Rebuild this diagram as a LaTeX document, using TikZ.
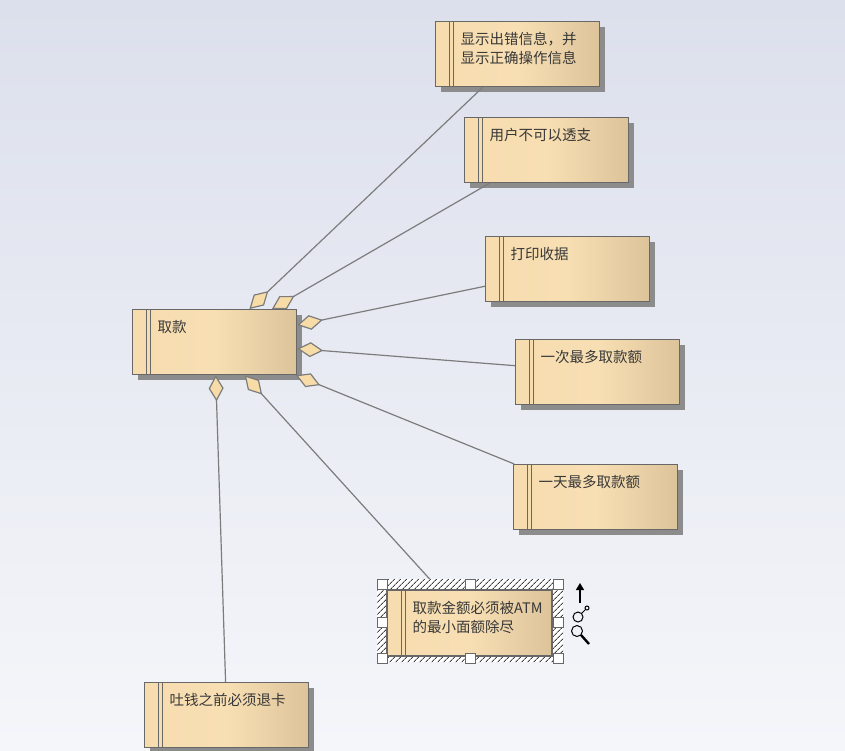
\documentclass[tikz,border=0pt]{standalone}
\usepackage{fontspec}
\usepackage{tikz}
\usetikzlibrary{arrows.meta,positioning,shadows,patterns.meta}
\newfontfamily\cjk{Noto Sans CJK SC}

\definecolor{bgtop}{HTML}{DCE0EC}
\definecolor{bgbot}{HTML}{F5F6FA}
\definecolor{reqleft}{HTML}{F6DCAF}
\definecolor{reqmid}{HTML}{F8DFB3}
\definecolor{reqright}{HTML}{DCC39A}
\definecolor{reqline}{HTML}{686868}
\definecolor{linkgray}{HTML}{7C7C7C}
\definecolor{diafill}{HTML}{F8DCA8}
\definecolor{txtgray}{HTML}{383838}

\begin{document}
\begin{tikzpicture}[x=1pt,y=-1pt,
  req/.style={rectangle,draw=reqline,line width=1.3pt,
              left color=reqleft,right color=reqright,middle color=reqmid,
              drop shadow={shadow xshift=5pt,shadow yshift=-5pt,fill=black!45,opacity=1},
              anchor=north west,text width=114pt,inner xsep=25pt,inner ysep=0pt,
              text height=22.5pt,text depth=42.5pt,align=left,
              font=\cjk\fontsize{14.5pt}{19.5pt}\selectfont,text=txtgray,
              path picture={\draw[reqline,line width=1pt]
                ([xshift=14pt]path picture bounding box.north west) -- ([xshift=14pt]path picture bounding box.south west)
                ([xshift=18pt]path picture bounding box.north west) -- ([xshift=18pt]path picture bounding box.south west);}},
  agg/.style={draw=linkgray,line width=1.2pt,-{Diamond[length=26pt,width=15pt,fill=diafill]}},
  handle/.style={draw=reqline,fill=white,line width=0.9pt}]

% background
\shade[top color=bgtop,bottom color=bgbot] (0,0) rectangle (845,750);
\useasboundingbox (0,0) rectangle (845,750);

\node[req] (withdraw) at (132,309) {取款};
\node[req] (errmsg) at (435,21) {显示出错信息，并\\显示正确操作信息};
\node[req] (overdraft) at (464,117) {用户不可以透支};
\node[req] (receipt) at (485,236) {打印收据};
\node[req] (oncemax) at (515,339) {一次最多取款额};
\node[req] (daymax) at (513,464) {一天最多取款额};
\node[req] (denom) at (387,590) {取款金额必须被ATM\\的最小面额除尽};
\node[req] (ejectcard) at (144,682) {吐钱之前必须退卡};

% aggregation links
\draw[agg] (errmsg) -- (withdraw);
\draw[agg] (overdraft) -- (withdraw);
\draw[agg] (receipt) -- (withdraw);
\draw[agg] (oncemax) -- (withdraw);
\draw[agg] (daymax) -- (withdraw);
\draw[agg] (denom) -- (withdraw);
\draw[agg] (ejectcard) -- (withdraw);

% selection frame
\fill[white,even odd rule] (377,579) rectangle (563,662) (denom.north west) rectangle (denom.south east);
\fill[pattern={Lines[angle=45,distance=4pt,line width=1pt]},pattern color=black!75,even odd rule]
  (377,579) rectangle (563,662) (denom.north west) rectangle (denom.south east);
\draw[reqline,line width=1.3pt] (denom.north west) rectangle (denom.south east);
\foreach \hx/\hy in {382/584,470/584,558/584,382/622,558/622,382/658,470/658,558/658}
  \filldraw[handle] (\hx-5,\hy-5) rectangle ++(10,10);

% icons
\draw[-{Triangle[length=7pt,width=8pt]},line width=1.4pt] (580,603) -- (580,583);
\draw[line width=1pt] (578,617) circle[radius=5pt] (582,613) -- (585,610) (587,608) circle[radius=2pt];
\draw[line width=1pt] (577,631) circle[radius=5.5pt];
\draw[line width=2.4pt] (581,635) -- (589,644);
\end{tikzpicture}
\end{document}
